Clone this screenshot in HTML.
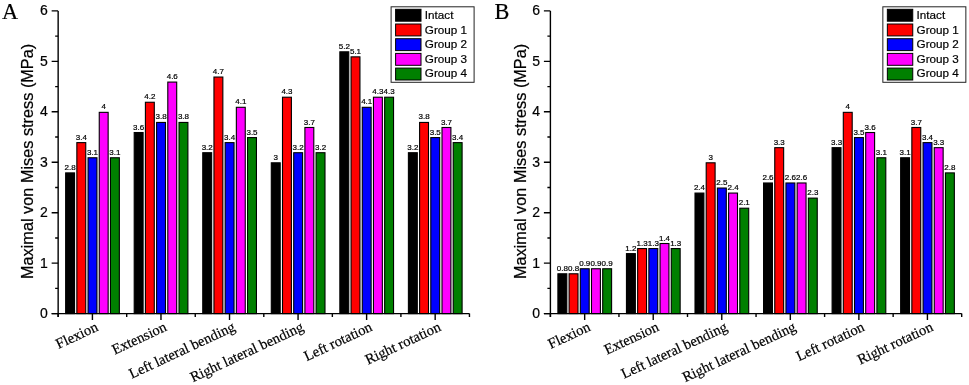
<!DOCTYPE html>
<html><head><meta charset="utf-8"><style>
html,body{margin:0;padding:0;background:#fff;}
svg{display:block;filter:blur(0.4px);}
text{font-family:"Liberation Sans",sans-serif;fill:#000;stroke:#000;stroke-width:0.2px;}
.vl{font-size:8px;text-anchor:middle;stroke-width:0.2px;}
.yl{font-size:14px;text-anchor:end;}
.yt{font-size:16.3px;text-anchor:middle;}
.xl{font-family:"Liberation Serif",serif;font-size:14.6px;text-anchor:end;}
.lg{font-size:11.7px;}
.pl{font-family:"Liberation Serif",serif;font-size:22.3px;}
</style></head><body>
<svg width="969" height="385" viewBox="0 0 969 385">
<rect width="969" height="385" fill="#fff"/>
<rect x="65.65" y="172.89" width="8.9" height="140.71" fill="#000000" stroke="#000" stroke-width="1.1"/>
<text x="70.1" y="169.94" class="vl">2.8</text>
<rect x="76.85" y="142.62" width="8.9" height="170.98" fill="#ff0000" stroke="#000" stroke-width="1.1"/>
<text x="81.3" y="139.67" class="vl">3.4</text>
<rect x="88.05" y="157.76" width="8.9" height="155.84" fill="#0000ff" stroke="#000" stroke-width="1.1"/>
<text x="92.5" y="154.81" class="vl">3.1</text>
<rect x="99.25" y="112.35" width="8.9" height="201.25" fill="#ff00ff" stroke="#000" stroke-width="1.1"/>
<text x="103.7" y="109.4" class="vl">4</text>
<rect x="110.45" y="157.76" width="8.9" height="155.84" fill="#008000" stroke="#000" stroke-width="1.1"/>
<text x="114.9" y="154.81" class="vl">3.1</text>
<rect x="134.2" y="132.53" width="8.9" height="181.07" fill="#000000" stroke="#000" stroke-width="1.1"/>
<text x="138.65" y="129.58" class="vl">3.6</text>
<rect x="145.4" y="102.26" width="8.9" height="211.34" fill="#ff0000" stroke="#000" stroke-width="1.1"/>
<text x="149.85" y="99.31" class="vl">4.2</text>
<rect x="156.6" y="122.44" width="8.9" height="191.16" fill="#0000ff" stroke="#000" stroke-width="1.1"/>
<text x="161.05" y="119.49" class="vl">3.8</text>
<rect x="167.8" y="82.08" width="8.9" height="231.52" fill="#ff00ff" stroke="#000" stroke-width="1.1"/>
<text x="172.25" y="79.13" class="vl">4.6</text>
<rect x="179" y="122.44" width="8.9" height="191.16" fill="#008000" stroke="#000" stroke-width="1.1"/>
<text x="183.45" y="119.49" class="vl">3.8</text>
<rect x="202.75" y="152.71" width="8.9" height="160.89" fill="#000000" stroke="#000" stroke-width="1.1"/>
<text x="207.2" y="149.76" class="vl">3.2</text>
<rect x="213.95" y="77.04" width="8.9" height="236.56" fill="#ff0000" stroke="#000" stroke-width="1.1"/>
<text x="218.4" y="74.09" class="vl">4.7</text>
<rect x="225.15" y="142.62" width="8.9" height="170.98" fill="#0000ff" stroke="#000" stroke-width="1.1"/>
<text x="229.6" y="139.67" class="vl">3.4</text>
<rect x="236.35" y="107.31" width="8.9" height="206.29" fill="#ff00ff" stroke="#000" stroke-width="1.1"/>
<text x="240.8" y="104.36" class="vl">4.1</text>
<rect x="247.55" y="137.58" width="8.9" height="176.03" fill="#008000" stroke="#000" stroke-width="1.1"/>
<text x="252" y="134.62" class="vl">3.5</text>
<rect x="271.3" y="162.8" width="8.9" height="150.8" fill="#000000" stroke="#000" stroke-width="1.1"/>
<text x="275.75" y="159.85" class="vl">3</text>
<rect x="282.5" y="97.22" width="8.9" height="216.38" fill="#ff0000" stroke="#000" stroke-width="1.1"/>
<text x="286.95" y="94.27" class="vl">4.3</text>
<rect x="293.7" y="152.71" width="8.9" height="160.89" fill="#0000ff" stroke="#000" stroke-width="1.1"/>
<text x="298.15" y="149.76" class="vl">3.2</text>
<rect x="304.9" y="127.48" width="8.9" height="186.12" fill="#ff00ff" stroke="#000" stroke-width="1.1"/>
<text x="309.35" y="124.53" class="vl">3.7</text>
<rect x="316.1" y="152.71" width="8.9" height="160.89" fill="#008000" stroke="#000" stroke-width="1.1"/>
<text x="320.55" y="149.76" class="vl">3.2</text>
<rect x="339.85" y="51.81" width="8.9" height="261.79" fill="#000000" stroke="#000" stroke-width="1.1"/>
<text x="344.3" y="48.86" class="vl">5.2</text>
<rect x="351.05" y="56.86" width="8.9" height="256.75" fill="#ff0000" stroke="#000" stroke-width="1.1"/>
<text x="355.5" y="53.91" class="vl">5.1</text>
<rect x="362.25" y="107.31" width="8.9" height="206.29" fill="#0000ff" stroke="#000" stroke-width="1.1"/>
<text x="366.7" y="104.36" class="vl">4.1</text>
<rect x="373.45" y="97.22" width="8.9" height="216.38" fill="#ff00ff" stroke="#000" stroke-width="1.1"/>
<text x="377.9" y="94.27" class="vl">4.3</text>
<rect x="384.65" y="97.22" width="8.9" height="216.38" fill="#008000" stroke="#000" stroke-width="1.1"/>
<text x="389.1" y="94.27" class="vl">4.3</text>
<rect x="408.4" y="152.71" width="8.9" height="160.89" fill="#000000" stroke="#000" stroke-width="1.1"/>
<text x="412.85" y="149.76" class="vl">3.2</text>
<rect x="419.6" y="122.44" width="8.9" height="191.16" fill="#ff0000" stroke="#000" stroke-width="1.1"/>
<text x="424.05" y="119.49" class="vl">3.8</text>
<rect x="430.8" y="137.58" width="8.9" height="176.03" fill="#0000ff" stroke="#000" stroke-width="1.1"/>
<text x="435.25" y="134.62" class="vl">3.5</text>
<rect x="442" y="127.48" width="8.9" height="186.12" fill="#ff00ff" stroke="#000" stroke-width="1.1"/>
<text x="446.45" y="124.53" class="vl">3.7</text>
<rect x="453.2" y="142.62" width="8.9" height="170.98" fill="#008000" stroke="#000" stroke-width="1.1"/>
<text x="457.65" y="139.67" class="vl">3.4</text>
<path d="M58.15 10.9V316.9M51.65 313.6H469.45" stroke="#000" stroke-width="1.4" fill="none"/>
<path d="M51.65 313.6H58.15M55.15 288.38H58.15M51.65 263.15H58.15M55.15 237.93H58.15M51.65 212.7H58.15M55.15 187.48H58.15M51.65 162.25H58.15M55.15 137.03H58.15M51.65 111.8H58.15M55.15 86.58H58.15M51.65 61.35H58.15M55.15 36.12H58.15M51.65 10.9H58.15M58.15 313.6V316.9M92.42 313.6V320.1M126.7 313.6V316.9M160.97 313.6V320.1M195.25 313.6V316.9M229.53 313.6V320.1M263.8 313.6V316.9M298.07 313.6V320.1M332.35 313.6V316.9M366.62 313.6V320.1M400.9 313.6V316.9M435.17 313.6V320.1M469.45 313.6V316.9" stroke="#000" stroke-width="1.4" fill="none"/>
<text x="47.85" y="318" class="yl">0</text>
<text x="47.85" y="267.55" class="yl">1</text>
<text x="47.85" y="217.1" class="yl">2</text>
<text x="47.85" y="166.65" class="yl">3</text>
<text x="47.85" y="116.2" class="yl">4</text>
<text x="47.85" y="65.75" class="yl">5</text>
<text x="47.85" y="15.3" class="yl">6</text>
<text transform="translate(33.45 161.4) rotate(-90)" class="yt">Maximal von Mises stress (MPa)</text>
<text transform="translate(99.02 330.2) rotate(-25)" class="xl">Flexion</text>
<text transform="translate(167.57 330.2) rotate(-25)" class="xl">Extension</text>
<text transform="translate(236.12 330.2) rotate(-25)" class="xl">Left lateral bending</text>
<text transform="translate(304.68 330.2) rotate(-25)" class="xl">Right lateral bending</text>
<text transform="translate(373.22 330.2) rotate(-25)" class="xl">Left rotation</text>
<text transform="translate(441.77 330.2) rotate(-25)" class="xl">Right rotation</text>
<rect x="391.1" y="6.8" width="83" height="75.5" fill="#fff" stroke="#222" stroke-width="1"/>
<rect x="395.6" y="9.3" width="25.4" height="11.9" fill="#000000" stroke="#000" stroke-width="1"/>
<text x="424.8" y="19.4" class="lg">Intact</text>
<rect x="395.6" y="24" width="25.4" height="11.9" fill="#ff0000" stroke="#000" stroke-width="1"/>
<text x="424.8" y="33.8" class="lg">Group 1</text>
<rect x="395.6" y="38.7" width="25.4" height="11.9" fill="#0000ff" stroke="#000" stroke-width="1"/>
<text x="424.8" y="48.2" class="lg">Group 2</text>
<rect x="395.6" y="53.4" width="25.4" height="11.9" fill="#ff00ff" stroke="#000" stroke-width="1"/>
<text x="424.8" y="62.6" class="lg">Group 3</text>
<rect x="395.6" y="68.1" width="25.4" height="11.9" fill="#008000" stroke="#000" stroke-width="1"/>
<text x="424.8" y="77" class="lg">Group 4</text>
<text x="1.9" y="18.9" class="pl">A</text>
<rect x="557.9" y="273.79" width="8.9" height="39.81" fill="#000000" stroke="#000" stroke-width="1.1"/>
<text x="562.35" y="270.84" class="vl">0.8</text>
<rect x="569.1" y="273.79" width="8.9" height="39.81" fill="#ff0000" stroke="#000" stroke-width="1.1"/>
<text x="573.55" y="270.84" class="vl">0.8</text>
<rect x="580.3" y="268.75" width="8.9" height="44.85" fill="#0000ff" stroke="#000" stroke-width="1.1"/>
<text x="584.75" y="265.8" class="vl">0.9</text>
<rect x="591.5" y="268.75" width="8.9" height="44.85" fill="#ff00ff" stroke="#000" stroke-width="1.1"/>
<text x="595.95" y="265.8" class="vl">0.9</text>
<rect x="602.7" y="268.75" width="8.9" height="44.85" fill="#008000" stroke="#000" stroke-width="1.1"/>
<text x="607.15" y="265.8" class="vl">0.9</text>
<rect x="626.45" y="253.61" width="8.9" height="59.99" fill="#000000" stroke="#000" stroke-width="1.1"/>
<text x="630.9" y="250.66" class="vl">1.2</text>
<rect x="637.65" y="248.57" width="8.9" height="65.04" fill="#ff0000" stroke="#000" stroke-width="1.1"/>
<text x="642.1" y="245.62" class="vl">1.3</text>
<rect x="648.85" y="248.57" width="8.9" height="65.04" fill="#0000ff" stroke="#000" stroke-width="1.1"/>
<text x="653.3" y="245.62" class="vl">1.3</text>
<rect x="660.05" y="243.52" width="8.9" height="70.08" fill="#ff00ff" stroke="#000" stroke-width="1.1"/>
<text x="664.5" y="240.57" class="vl">1.4</text>
<rect x="671.25" y="248.57" width="8.9" height="65.04" fill="#008000" stroke="#000" stroke-width="1.1"/>
<text x="675.7" y="245.62" class="vl">1.3</text>
<rect x="695" y="193.07" width="8.9" height="120.53" fill="#000000" stroke="#000" stroke-width="1.1"/>
<text x="699.45" y="190.12" class="vl">2.4</text>
<rect x="706.2" y="162.8" width="8.9" height="150.8" fill="#ff0000" stroke="#000" stroke-width="1.1"/>
<text x="710.65" y="159.85" class="vl">3</text>
<rect x="717.4" y="188.03" width="8.9" height="125.58" fill="#0000ff" stroke="#000" stroke-width="1.1"/>
<text x="721.85" y="185.08" class="vl">2.5</text>
<rect x="728.6" y="193.07" width="8.9" height="120.53" fill="#ff00ff" stroke="#000" stroke-width="1.1"/>
<text x="733.05" y="190.12" class="vl">2.4</text>
<rect x="739.8" y="208.21" width="8.9" height="105.39" fill="#008000" stroke="#000" stroke-width="1.1"/>
<text x="744.25" y="205.26" class="vl">2.1</text>
<rect x="763.55" y="182.98" width="8.9" height="130.62" fill="#000000" stroke="#000" stroke-width="1.1"/>
<text x="768" y="180.03" class="vl">2.6</text>
<rect x="774.75" y="147.67" width="8.9" height="165.94" fill="#ff0000" stroke="#000" stroke-width="1.1"/>
<text x="779.2" y="144.72" class="vl">3.3</text>
<rect x="785.95" y="182.98" width="8.9" height="130.62" fill="#0000ff" stroke="#000" stroke-width="1.1"/>
<text x="790.4" y="180.03" class="vl">2.6</text>
<rect x="797.15" y="182.98" width="8.9" height="130.62" fill="#ff00ff" stroke="#000" stroke-width="1.1"/>
<text x="801.6" y="180.03" class="vl">2.6</text>
<rect x="808.35" y="198.12" width="8.9" height="115.48" fill="#008000" stroke="#000" stroke-width="1.1"/>
<text x="812.8" y="195.17" class="vl">2.3</text>
<rect x="832.1" y="147.67" width="8.9" height="165.94" fill="#000000" stroke="#000" stroke-width="1.1"/>
<text x="836.55" y="144.72" class="vl">3.3</text>
<rect x="843.3" y="112.35" width="8.9" height="201.25" fill="#ff0000" stroke="#000" stroke-width="1.1"/>
<text x="847.75" y="109.4" class="vl">4</text>
<rect x="854.5" y="137.58" width="8.9" height="176.03" fill="#0000ff" stroke="#000" stroke-width="1.1"/>
<text x="858.95" y="134.62" class="vl">3.5</text>
<rect x="865.7" y="132.53" width="8.9" height="181.07" fill="#ff00ff" stroke="#000" stroke-width="1.1"/>
<text x="870.15" y="129.58" class="vl">3.6</text>
<rect x="876.9" y="157.76" width="8.9" height="155.84" fill="#008000" stroke="#000" stroke-width="1.1"/>
<text x="881.35" y="154.81" class="vl">3.1</text>
<rect x="900.65" y="157.76" width="8.9" height="155.84" fill="#000000" stroke="#000" stroke-width="1.1"/>
<text x="905.1" y="154.81" class="vl">3.1</text>
<rect x="911.85" y="127.48" width="8.9" height="186.12" fill="#ff0000" stroke="#000" stroke-width="1.1"/>
<text x="916.3" y="124.53" class="vl">3.7</text>
<rect x="923.05" y="142.62" width="8.9" height="170.98" fill="#0000ff" stroke="#000" stroke-width="1.1"/>
<text x="927.5" y="139.67" class="vl">3.4</text>
<rect x="934.25" y="147.67" width="8.9" height="165.94" fill="#ff00ff" stroke="#000" stroke-width="1.1"/>
<text x="938.7" y="144.72" class="vl">3.3</text>
<rect x="945.45" y="172.89" width="8.9" height="140.71" fill="#008000" stroke="#000" stroke-width="1.1"/>
<text x="949.9" y="169.94" class="vl">2.8</text>
<path d="M550.4 10.9V316.9M543.9 313.6H961.7" stroke="#000" stroke-width="1.4" fill="none"/>
<path d="M543.9 313.6H550.4M547.4 288.38H550.4M543.9 263.15H550.4M547.4 237.93H550.4M543.9 212.7H550.4M547.4 187.48H550.4M543.9 162.25H550.4M547.4 137.03H550.4M543.9 111.8H550.4M547.4 86.58H550.4M543.9 61.35H550.4M547.4 36.12H550.4M543.9 10.9H550.4M550.4 313.6V316.9M584.67 313.6V320.1M618.95 313.6V316.9M653.22 313.6V320.1M687.5 313.6V316.9M721.77 313.6V320.1M756.05 313.6V316.9M790.32 313.6V320.1M824.6 313.6V316.9M858.88 313.6V320.1M893.15 313.6V316.9M927.42 313.6V320.1M961.7 313.6V316.9" stroke="#000" stroke-width="1.4" fill="none"/>
<text x="540.1" y="318" class="yl">0</text>
<text x="540.1" y="267.55" class="yl">1</text>
<text x="540.1" y="217.1" class="yl">2</text>
<text x="540.1" y="166.65" class="yl">3</text>
<text x="540.1" y="116.2" class="yl">4</text>
<text x="540.1" y="65.75" class="yl">5</text>
<text x="540.1" y="15.3" class="yl">6</text>
<text transform="translate(525.7 161.4) rotate(-90)" class="yt">Maximal von Mises stress (MPa)</text>
<text transform="translate(591.27 330.2) rotate(-25)" class="xl">Flexion</text>
<text transform="translate(659.82 330.2) rotate(-25)" class="xl">Extension</text>
<text transform="translate(728.38 330.2) rotate(-25)" class="xl">Left lateral bending</text>
<text transform="translate(796.92 330.2) rotate(-25)" class="xl">Right lateral bending</text>
<text transform="translate(865.48 330.2) rotate(-25)" class="xl">Left rotation</text>
<text transform="translate(934.02 330.2) rotate(-25)" class="xl">Right rotation</text>
<rect x="882.85" y="6.8" width="83" height="75.5" fill="#fff" stroke="#222" stroke-width="1"/>
<rect x="887.35" y="9.3" width="25.4" height="11.9" fill="#000000" stroke="#000" stroke-width="1"/>
<text x="916.55" y="19.4" class="lg">Intact</text>
<rect x="887.35" y="24" width="25.4" height="11.9" fill="#ff0000" stroke="#000" stroke-width="1"/>
<text x="916.55" y="33.8" class="lg">Group 1</text>
<rect x="887.35" y="38.7" width="25.4" height="11.9" fill="#0000ff" stroke="#000" stroke-width="1"/>
<text x="916.55" y="48.2" class="lg">Group 2</text>
<rect x="887.35" y="53.4" width="25.4" height="11.9" fill="#ff00ff" stroke="#000" stroke-width="1"/>
<text x="916.55" y="62.6" class="lg">Group 3</text>
<rect x="887.35" y="68.1" width="25.4" height="11.9" fill="#008000" stroke="#000" stroke-width="1"/>
<text x="916.55" y="77" class="lg">Group 4</text>
<text x="494.4" y="18.9" class="pl">B</text>
</svg>
</body></html>
